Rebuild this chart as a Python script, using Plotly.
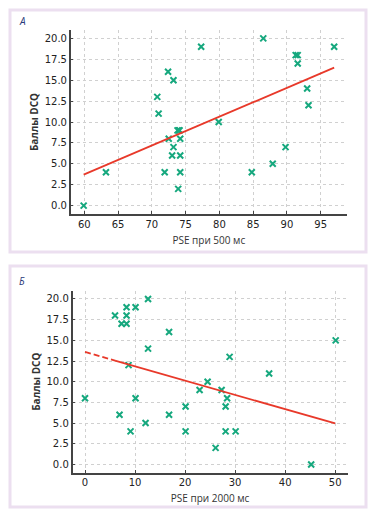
import plotly.graph_objects as go

# Panel A data
pse500 = [59.9, 63.2, 71.9, 72.5, 73.2, 73.0, 74.2, 74.2, 73.9, 74.2, 73.8, 74.0, 74.1,
          79.9, 84.8, 87.9, 89.8, 70.8, 71.0, 72.4, 73.2, 77.3, 86.5, 91.3, 91.6, 91.6,
          93.0, 93.2, 97.0]
dcq_a = [0, 4, 4, 8, 7, 6, 6, 4, 2, 8, 9, 9, 9,
         10, 4, 5, 7, 13, 11, 16, 15, 19, 20, 18, 18, 17,
         14, 12, 19]
fit_a_x = [59.9, 97.0]
fit_a_y = [3.7, 16.5]

# Panel B data
pse2000 = [0.0, 6.9, 9.1, 10.1, 12.1, 16.8, 20.1, 20.1, 22.9, 24.5, 27.3, 28.4, 28.1,
           28.1, 30.1, 26.1, 45.2, 6.0, 7.3, 8.3, 8.3, 8.3, 10.1, 12.6, 12.6, 16.8,
           8.7, 28.9, 36.8, 50.1]
dcq_b = [8, 6, 4, 8, 5, 6, 7, 4, 9, 10, 9, 8, 7,
         4, 4, 2, 0, 18, 17, 17, 18, 19, 19, 20, 14, 16,
         12, 13, 11, 15]
fit_b_dash_x = [0.0, 6.0]
fit_b_dash_y = [13.6, 12.56]
fit_b_x = [6.0, 50.0]
fit_b_y = [12.56, 4.95]

y_ticks = [0, 2.5, 5, 7.5, 10, 12.5, 15, 17.5, 20]
x_ticks_a = [60, 65, 70, 75, 80, 85, 90, 95]
x_ticks_b = [0, 10, 20, 30, 40, 50]

W, H = 379, 518
GREEN = "#16a87e"
RED = "#e8392a"

fig = go.Figure()

marker = dict(symbol="x-thin", size=6, line=dict(width=2, color=GREEN), color=GREEN)

fig.add_trace(go.Scatter(x=pse500, y=dcq_a, mode="markers", marker=marker,
                         xaxis="x", yaxis="y", showlegend=False))
fig.add_trace(go.Scatter(x=fit_a_x, y=fit_a_y, mode="lines", line=dict(color=RED, width=1.8),
                         xaxis="x", yaxis="y", showlegend=False))
fig.add_trace(go.Scatter(x=pse2000, y=dcq_b, mode="markers", marker=marker,
                         xaxis="x2", yaxis="y2", showlegend=False))
fig.add_trace(go.Scatter(x=fit_b_dash_x, y=fit_b_dash_y, mode="lines",
                         line=dict(color=RED, width=1.8, dash="6px,3px"),
                         xaxis="x2", yaxis="y2", showlegend=False))
fig.add_trace(go.Scatter(x=fit_b_x, y=fit_b_y, mode="lines", line=dict(color=RED, width=1.8),
                         xaxis="x2", yaxis="y2", showlegend=False))

def px_x(v):
    return v / W

def px_y(v):
    return 1 - v / H

tickfont = dict(family="DejaVu Sans", size=10, color="#222")
titlefont = dict(family="Open Sans", size=10, color="#333")

common_x = dict(showline=True, linecolor="#444", linewidth=1.5, ticks="inside", ticklen=3,
                tickcolor="#444", tickfont=tickfont, showgrid=True, gridcolor="#d0d0d0",
                griddash="dot", gridwidth=0.8, zeroline=False, mirror=False, automargin=False)
common_y = dict(common_x)
common_y.update(tickmode="array", tickvals=y_ticks, ticktext=[f"{v:.1f}" for v in y_ticks],
                range=[-1, 21])

fig.update_layout(
    width=W, height=H, margin=dict(l=0, r=0, t=0, b=0),
    paper_bgcolor="white", plot_bgcolor="white",
    xaxis=dict(common_x, domain=[px_x(70.7), px_x(347)], anchor="y", range=[57.98, 98.9],
               tickvals=x_ticks_a, title=dict(text="PSE при 500 мс", font=titlefont, standoff=8)),
    yaxis=dict(common_y, domain=[px_y(214), px_y(30)], anchor="x",
               title=dict(text="<b>Баллы DCQ</b>", font=dict(family="Open Sans", size=10, color="#333"), standoff=4)),
    xaxis2=dict(common_x, domain=[px_x(72.5), px_x(347.7)], anchor="y2", range=[-2.5, 52.5],
                tickvals=x_ticks_b, title=dict(text="PSE при 2000 мс", font=titlefont, standoff=8)),
    yaxis2=dict(common_y, domain=[px_y(472.7), px_y(290.7)], anchor="x2",
                title=dict(text="<b>Баллы DCQ</b>", font=dict(family="Open Sans", size=10, color="#333"), standoff=4)),
)

border = "#ecdff0"
for (y0, y1) in [(10, 252), (266, 507)]:
    fig.add_shape(type="rect", xref="paper", yref="paper",
                  x0=px_x(10), x1=px_x(366), y0=px_y(y1), y1=px_y(y0),
                  line=dict(color=border, width=3), fillcolor="rgba(0,0,0,0)", layer="below")

for label, yy in [("А", 21.5), ("Б", 280.5)]:
    fig.add_annotation(text=f"<i>{label}</i>", xref="paper", yref="paper",
                       x=px_x(17), y=px_y(yy), xanchor="left", yanchor="middle",
                       showarrow=False, font=dict(family="Open Sans", size=10, color="#2b3a78"))

fig.write_html("out.html", config={"displayModeBar": False},
               post_script="document.body.style.margin='0';document.body.style.overflow='hidden';")
